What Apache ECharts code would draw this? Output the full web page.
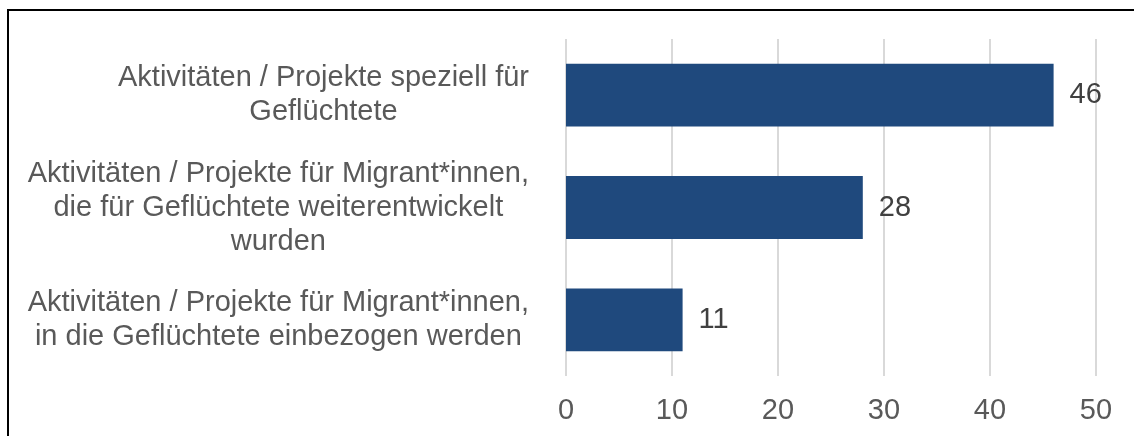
<!DOCTYPE html>
<html>
<head>
<meta charset="utf-8">
<script src="https://cdn.jsdelivr.net/npm/echarts@6/dist/echarts.min.js"></script>
<style>
    html, body {
        margin: 0;
        padding: 0;
        background: #fff;
        overflow: hidden;
    }

    #chart {
        width: 1134px;
        height: 436px;
    }

    .frame {
        position: absolute;
        left: 7px;
        top: 9px;
        width: 1200px;
        height: 500px;
        border: 2px solid #000;
        pointer-events: none;
    }
</style>
</head>
<body>
<div id="chart"></div>
<div class="frame"></div>
<script>
// categories from top to bottom, one entry per line of the label
const categories = [
    ['Aktivitäten / Projekte speziell für', 'Geflüchtete'],
    ['Aktivitäten / Projekte für Migrant*innen,', 'die für Geflüchtete weiterentwickelt', 'wurden'],
    ['Aktivitäten / Projekte für Migrant*innen,', 'in die Geflüchtete einbezogen werden']
]
const values = [46, 28, 11]
const xTicks = [0, 10, 20, 30, 40, 50]

const barColor = '#1F497D'
const textColor = '#595959'

const chart = echarts.init(document.getElementById('chart'))

chart.setOption({
    animation: false,
    grid: {
        left: 566,
        right: 38,
        top: 39,
        bottom: 60
    },
    xAxis: {
        type: 'value',
        min: xTicks[0],
        max: xTicks[xTicks.length - 1],
        interval: 10,
        axisLine: { show: false },
        axisTick: { show: false },
        axisLabel: {
            margin: 20,
            fontSize: 29,
            fontFamily: 'Liberation Sans, Arial, sans-serif',
            color: textColor
        },
        splitLine: {
            show: true,
            lineStyle: { color: '#d9d9d9', width: 2 }
        }
    },
    yAxis: {
        type: 'category',
        inverse: true,
        data: categories.map((c, i) => 'c' + i),
        axisLine: { show: false },
        axisTick: { show: false },
        axisLabel: {
            margin: 37,
            align: 'right',
            formatter: (v, i) => categories[i].map(l => '{c|' + l + '}').join('\n'),
            rich: {
                c: {
                    align: 'center',
                    fontSize: 29,
                    lineHeight: 34,
                    fontFamily: 'Liberation Sans, Arial, sans-serif',
                    color: textColor
                }
            }
        }
    },
    series: [
        {
            type: 'bar',
            data: values,
            barCategoryGap: '44%',
            itemStyle: { color: barColor },
            label: {
                show: true,
                position: 'right',
                distance: 16,
                fontSize: 29,
                fontFamily: 'Liberation Sans, Arial, sans-serif',
                color: '#404040'
            }
        }
    ]
})
</script>
</body>
</html>
